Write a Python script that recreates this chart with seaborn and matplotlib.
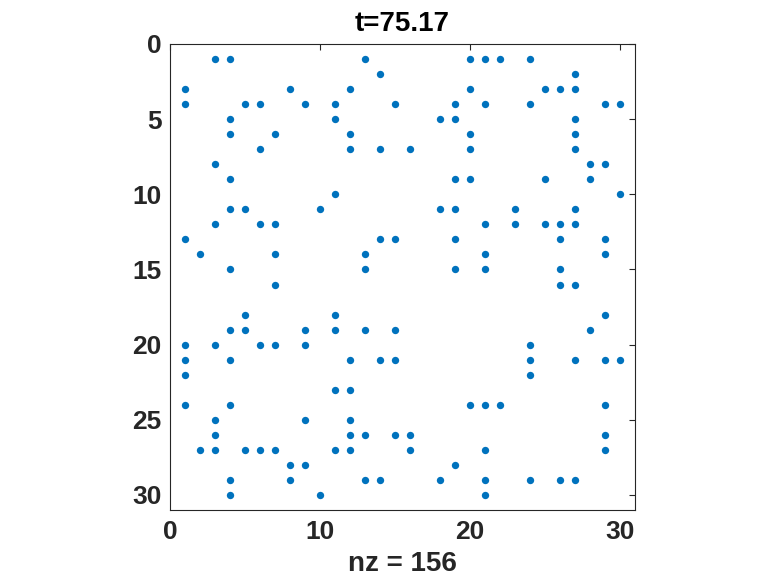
import matplotlib
matplotlib.use('Agg')
import matplotlib.pyplot as plt
import pandas as pd
import seaborn as sns

# spy pattern: column indices of nonzeros for each row 1..30
title_text = 't=75.17'
rows = list(range(1, 31))
cols_by_row = [
    [3, 4, 13, 20, 21, 22, 24],
    [14, 27],
    [1, 8, 12, 20, 25, 26, 27],
    [1, 5, 6, 9, 11, 15, 19, 21, 24, 29, 30],
    [4, 11, 18, 19, 27],
    [4, 7, 12, 20, 27],
    [6, 12, 14, 16, 20, 27],
    [3, 28, 29],
    [4, 19, 20, 25, 28],
    [11, 30],
    [4, 5, 10, 18, 19, 23, 27],
    [3, 6, 7, 21, 23, 25, 26, 27],
    [1, 14, 15, 19, 26, 29],
    [2, 7, 13, 21, 29],
    [4, 13, 19, 21, 26],
    [7, 26, 27],
    [],
    [5, 11, 29],
    [4, 5, 9, 11, 13, 15, 28],
    [1, 3, 6, 7, 9, 24],
    [1, 4, 12, 14, 15, 24, 27, 29, 30],
    [1, 24],
    [11, 12],
    [1, 4, 20, 21, 22, 29],
    [3, 9, 12],
    [3, 12, 13, 15, 16, 29],
    [2, 3, 5, 6, 7, 11, 12, 16, 21, 29],
    [8, 9, 19],
    [4, 8, 13, 14, 18, 21, 24, 26, 27],
    [4, 10, 21],
]

df = pd.DataFrame(
    [(r, c) for r, cs in zip(rows, cols_by_row) for c in cs],
    columns=['row', 'col'])

sns.set_style('white')
plt.rcParams['font.family'] = ['Liberation Sans', 'DejaVu Sans']
plt.rcParams['font.weight'] = 'bold'

fig = plt.figure(figsize=(7.78, 5.84), dpi=100)
ax = fig.add_axes([0.2185, 0.1267, 0.5977, 0.798])

sns.scatterplot(data=df, x='col', y='row', ax=ax, color='#0072BD',
                s=28, linewidth=0, legend=False)

ax.set_xlim(0, 31)
ax.set_ylim(31, 0)
ax.set_xticks([0, 10, 20, 30])
ax.set_yticks([0, 5, 10, 15, 20, 25, 30])
ax.tick_params(direction='in', length=4, width=0.8, top=True, right=True,
               labelsize=19, color='#262626', labelcolor='#262626', pad=6)
ax.tick_params(axis='x', pad=7)
for lab in ax.get_xticklabels() + ax.get_yticklabels():
    lab.set_fontweight('bold')
for sp in ax.spines.values():
    sp.set_color('#262626')
    sp.set_linewidth(0.8)

ax.set_xlabel(f'nz = {len(df)}', fontsize=20, fontweight='bold',
              color='#262626', labelpad=5)
ax.set_ylabel('')
ax.set_title(title_text, fontsize=20, fontweight='bold', color='black', pad=9)

fig.savefig('out.png', dpi=100)
